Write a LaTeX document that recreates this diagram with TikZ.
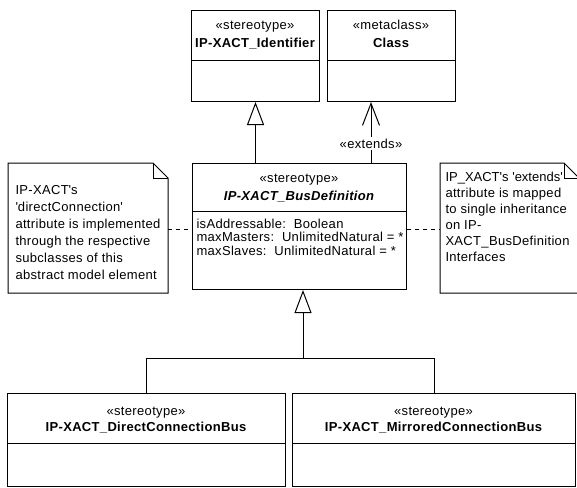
\documentclass[tikz,border=0pt]{standalone}
\usepackage{fontspec}
\setmainfont{Liberation Sans}[LetterSpace=2.5]
\newfontfamily\tightfont{Liberation Sans}[LetterSpace=0]
\usetikzlibrary{arrows.meta}
\newcommand{\sq}{\textquotesingle}
\begin{document}
\begin{tikzpicture}[x=1pt,y=-1pt,line width=1pt,
  every node/.style={font=\fontsize{13}{16}\selectfont, inner sep=0pt},
  umlbox/.style={draw, rectangle, anchor=north west, minimum width=#1},
  frame/.style={rectangle, anchor=north west, minimum width=#1},
  bold/.style={font=\fontsize{13}{16}\selectfont\bfseries},
  gen/.style={-{Triangle[open, length=23pt, width=17pt]}},
  ext/.style={-{Straight Barb[length=22pt, width=17pt]}},
  dep/.style={dash pattern=on 4pt off 4pt}
]
\useasboundingbox (0,0) rectangle (577,487);

% class boxes
\node[umlbox=128pt, minimum height=91pt] (id) at (191,10) {};
\draw (id.north west) ++(0,50) -- ++(128,0);
\node[anchor=base] (idst) at (255,30) {«stereotype»};
\node[anchor=base, bold] (idnm) at (255,47.5) {IP-XACT\_Identifier};

\node[umlbox=128pt, minimum height=91pt] (cls) at (327,10) {};
\draw (cls.north west) ++(0,50) -- ++(128,0);
\node[anchor=base] (clsst) at (391,30) {«metaclass»};
\node[anchor=base, bold] (clsnm) at (391,47.5) {Class};

\node[umlbox=214pt, minimum height=126pt] (bus) at (192,163) {};
\draw (bus.north west) ++(0,48) -- ++(214,0);
\node[anchor=base] (busst) at (299,182) {«stereotype»};
\node[anchor=base, font=\fontsize{13}{16}\selectfont\bfseries\itshape] (busnm) at (299,200) {IP-XACT\_BusDefinition};
\node[anchor=base west] (a1) at (196,228) {isAddressable:\ \ Boolean};
\node[anchor=base west] (a2) at (196,241.5) {maxMasters:\ \ UnlimitedNatural = *};
\node[anchor=base west] (a3) at (196,255) {maxSlaves:\ \ UnlimitedNatural = *};

\node[umlbox=278pt, minimum height=93pt] (dcb) at (7,393) {};
\draw (dcb.north west) ++(0,50) -- ++(278,0);
\node[anchor=base] (dcbst) at (146,415) {«stereotype»};
\node[anchor=base, bold] (dcbnm) at (146,431.5) {IP-XACT\_DirectConnectionBus};

\node[umlbox=283pt, minimum height=93pt] (mcb) at (292,393) {};
\draw (mcb.north west) ++(0,50) -- ++(283,0);
\node[anchor=base] (mcbst) at (433.5,415) {«stereotype»};
\node[anchor=base, bold] (mcbnm) at (433.5,431.5) {IP-XACT\_MirroredConnectionBus};

% notes with folded corner
\node[frame=159pt, minimum height=129pt] (notel) at (8,163) {};
\node[frame=138pt, minimum height=129pt] (noter) at (440,163) {};
\foreach \n in {notel,noter}{
  \draw (\n.north west) -- ([xshift=-15pt]\n.north east) -- ([yshift=-15pt]\n.north east)
        -- (\n.south east) -- (\n.south west) -- cycle;
  \draw ([xshift=-15pt]\n.north east) |- ([yshift=-15pt]\n.north east);
}
\foreach \t [count=\i] in {IP-XACT\sq s, \sq directConnection\sq, attribute is implemented,
    through the respective, subclasses of this, abstract model element}
  \node[anchor=base west] (nl\i) at (15,194.3+17*\i-17) {\t};
\foreach \t [count=\i] in {{\tightfont IP\_XACT\sq s \sq extends\sq}, attribute is mapped,
    to single inheritance, on IP-, XACT\_BusDefinition, Interfaces}
  \node[anchor=base west] (nr\i) at (445,181.7+16*\i-16) {\t};

% connectors
\coordinate (dl) at (0,229);
\draw[dep] (notel.east |- dl) -- (bus.west |- dl);
\draw[dep] (bus.east |- dl) -- (noter.west |- dl);

\draw[gen] (id.south |- bus.north) -- (id.south);

\coordinate (ex) at (371,0);
\draw[ext] (bus.north -| ex) -- (cls.south -| ex);
\node[fill=white, inner sep=1.5pt] (extl) at (371,143.5) {«extends»};

\coordinate (bx) at (303,0);
\coordinate (jn) at (0,358);
\draw[gen] (bx |- jn) -- (bus.south -| bx);
\draw (dcb.north) |- (mcb.north |- jn) -- (mcb.north);
\end{tikzpicture}
\end{document}
